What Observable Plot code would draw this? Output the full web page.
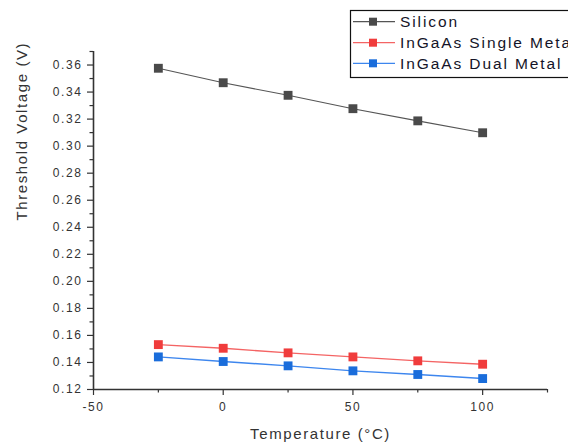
<!DOCTYPE html>
<html>
<head>
<meta charset="utf-8">
<script src="https://cdn.jsdelivr.net/npm/d3@7"></script>
<script src="https://cdn.jsdelivr.net/npm/@observablehq/plot@0.6"></script>
<style>
  html, body { margin: 0; padding: 0; background: #fff; }
  #chart svg text { letter-spacing: 1.6px; }
  #chart svg g.legend text { letter-spacing: 1.9px; }
</style>
</head>
<body>
<div id="chart"></div>
<script>
const temps = [-25, 0, 25, 50, 75, 100];
const silicon = [0.3576, 0.3469, 0.3376, 0.3277, 0.3187, 0.3099];
const singleMetal = [0.1532, 0.1505, 0.1471, 0.1441, 0.1412, 0.1387];
const dualMetal = [0.1441, 0.1407, 0.1375, 0.1338, 0.1311, 0.1281];
const seriesNames = ["Silicon", "InGaAs Single Metal", "InGaAs Dual Metal"];
const lineColors = ["#555555", "#f46464", "#3d86ee"];
const markColors = ["#4a4a4a", "#f03c3c", "#1a6ddb"];
const xMajor = [-50, 0, 50, 100];
const xMinor = [-25, 25, 75, 125];
const yMajor = [0.12, 0.14, 0.16, 0.18, 0.20, 0.22, 0.24, 0.26, 0.28, 0.30, 0.32, 0.34, 0.36];
const yMinor = [0.13, 0.15, 0.17, 0.19, 0.21, 0.23, 0.25, 0.27, 0.29, 0.31, 0.33, 0.35, 0.37];
const xLabel = "Temperature (°C)";
const yLabel = "Threshold Voltage (V)";

const seriesValues = [silicon, singleMetal, dualMetal];
const rows = [];
seriesNames.forEach((name, i) => {
  temps.forEach((t, j) => rows.push({series: name, idx: i, t, v: seriesValues[i][j]}));
});

const axisColor = "#333";
const marks = [];
seriesNames.forEach((name, i) => {
  const d = rows.filter(r => r.series === name);
  marks.push(Plot.line(d, {x: "t", y: "v", stroke: lineColors[i], strokeWidth: i === 0 ? 1.1 : 1.4}));
  marks.push(Plot.dot(d, {x: "t", y: "v", symbol: "square", r: 5, fill: markColors[i], stroke: "none"}));
});

const chart = Plot.plot({
  width: 568,
  height: 445,
  marginLeft: 93,
  marginRight: 21,
  marginTop: 51,
  marginBottom: 56,
  style: {fontFamily: "'Liberation Sans', Arial, sans-serif", background: "#fff"},
  x: {domain: [-50, 125]},
  y: {domain: [0.12, 0.37]},
  marks: [
    Plot.axisX({ticks: xMajor, tickSize: 6, tickPadding: 7, fontSize: 12, fill: "#333", stroke: axisColor, strokeWidth: 1.2, label: null, tickFormat: d => String(d)}),
    Plot.axisX({ticks: xMinor, tickSize: 3.5, stroke: axisColor, strokeWidth: 1.2, label: null, tickFormat: () => ""}),
    Plot.axisY({ticks: yMajor, tickSize: 6, tickPadding: 5, fontSize: 12, fill: "#333", stroke: axisColor, strokeWidth: 1.2, label: null, tickFormat: d3.format(".2f")}),
    Plot.axisY({ticks: yMinor, tickSize: 3.5, stroke: axisColor, strokeWidth: 1.2, label: null, tickFormat: () => ""}),
    Plot.ruleY([0.12], {x1: -50, x2: 125, stroke: axisColor, strokeWidth: 1.6}),
    Plot.ruleX([-50], {y1: 0.12, y2: 0.37, stroke: axisColor, strokeWidth: 1.6}),
    ...marks,
    Plot.text([xLabel], {text: d => d, frameAnchor: "bottom", dy: 45, fontSize: 15, fill: "#333", lineAnchor: "middle"}),
    Plot.text([yLabel], {text: d => d, frameAnchor: "left", dx: -71, rotate: -90, fontSize: 15, fill: "#333", lineAnchor: "middle"})
  ]
});
document.getElementById("chart").appendChild(chart);

// legend (clipped at the right edge like the reference)
const svg = d3.select(chart);
const lg = svg.append("g").attr("class", "legend").attr("text-anchor", "start");
lg.append("rect").attr("x", 350.5).attr("y", 10.5).attr("width", 300).attr("height", 67)
  .attr("fill", "#fff").attr("stroke", "#111").attr("stroke-width", 1.2);
const rowY = [21.7, 42.7, 63.3];
seriesNames.forEach((name, i) => {
  const y = rowY[i];
  lg.append("line").attr("x1", 353).attr("x2", 395).attr("y1", y).attr("y2", y)
    .attr("stroke", lineColors[i]).attr("stroke-width", 1.3);
  lg.append("rect").attr("x", 369).attr("y", y - 4).attr("width", 8).attr("height", 8).attr("fill", markColors[i]);
  lg.append("text").attr("x", 400).attr("y", y).attr("dy", "0.36em").attr("text-anchor", "start")
    .attr("font-size", 15.5).attr("fill", "#141428").text(name);
});
</script>
</body>
</html>
